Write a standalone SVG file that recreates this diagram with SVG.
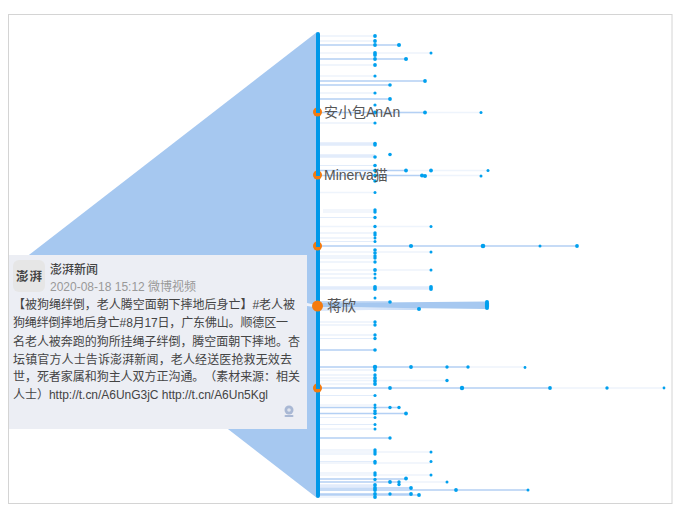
<svg xmlns="http://www.w3.org/2000/svg" width="680" height="512" viewBox="0 0 680 512">
<style>
text{font-family:"Liberation Sans","Noto Sans CJK SC",sans-serif}
.v{stroke:#eef4fc;stroke-width:1.5;fill:none}
.l{stroke:#e2ecfa;stroke-width:1.2;fill:none}
.m{stroke:#b4d0f4;stroke-width:1.3;fill:none}
.b{stroke:#e2ecfb;stroke-width:3.5;fill:none}
.d circle{fill:#00a0ee}
.lab{font-size:14px;fill:#555}
.card{font-size:12px;fill:#444;text-spacing-trim:space-all}
.o{fill:#f47b10}
.c{fill:#0098e8}
</style>
<rect x="8.500" y="14.500" width="663.500" height="489" fill="#fff" stroke="#d4d4d4"/>
<polygon id="fan" points="317,32 16,265 317,498" fill="#a6c8f0"/>
<g id="connectors">
<path class="l" d="M320 36H375M320 41H375M320 65H375M320 93H375M320 123H375M320 165.500H375M320 217.500H375M320 233H375M320 238H375M320 241.500H375M320 256H375M320 258H375M320 262H375M320 274H375M320 278H375M320 322H375M320 325H375M320 335H375M320 338.500H375M320 370H375M320 375H375M320 378H375M320 384H375M320 395.500H375M320 417.500H375M320 424.500H375M320 429H375M320 450H375M320 454H375M320 461.500H375M320 473H375M320 497H375"/>
<path class="v" d="M320 53H431M320 76H375M375 112.500H481M320 192.500H375M323 210H375M323 212H375M320 226.500H431M320 252H431M320 270H431M320 380.500H447M320 405H375M320 452H431M320 463H431M320 475H431M375 482H447M425 175.500H481M406 170.500H488M468 367H525M550 388H664"/>
<path class="m" d="M320 45H399M320 59H406M320 81H425M320 85H390M320 99H390M320 112.500H425M320 170.500H406M320 175.500H425M320 246H576M320 302H390M320 309H419M320 350H375M320 367H468M320 388H550M320 407.500H399M320 413.500H406M320 438H390M320 479H406M320 482H399M320 488H411M320 490H528M320 494H411M320 495H419"/>
<path class="b" d="M320 144H375M320 156H375M320 288H431M320 486H375"/>
<polygon points="320,303 487,301.500 487,309 320,307" fill="#a6c8f0"/>
<polygon points="320,307 419,309 320,311" fill="#dce8fa"/>
<polygon points="307,303 314,304.500 314,307 307,306" fill="#eef2fa"/>
</g>
<g id="axis"><rect x="316" y="32" width="4" height="466" rx="2" class="c"/></g>
<g id="dots" class="d">
<circle cx="375" cy="36" r="1.900"/><circle cx="375" cy="41" r="1.900"/><circle cx="375" cy="45" r="1.900"/><circle cx="399" cy="45" r="2"/><circle cx="375" cy="53" r="1.900"/><circle cx="431" cy="53" r="1.500"/><circle cx="375" cy="55" r="1.900"/><circle cx="375" cy="59" r="1.900"/><circle cx="406" cy="59" r="2"/><circle cx="375" cy="65" r="1.900"/><circle cx="375" cy="76" r="1.600"/><circle cx="425" cy="81" r="1.900"/><circle cx="390" cy="85" r="1.800"/><circle cx="375" cy="93" r="1.600"/><circle cx="390" cy="99" r="1.900"/><circle cx="375" cy="105" r="1.600"/><circle cx="375" cy="112.500" r="1.900"/><circle cx="425" cy="112.500" r="1.900"/><circle cx="481" cy="112.500" r="1.500"/><circle cx="375" cy="123" r="1.600"/><circle cx="375" cy="143.500" r="1.800"/><circle cx="375" cy="145" r="1.800"/>
<circle cx="390" cy="154.500" r="1.800"/><circle cx="375" cy="157" r="1.800"/><circle cx="375" cy="165.500" r="1.800"/><circle cx="375" cy="170.500" r="1.800"/><circle cx="406" cy="170.500" r="1.900"/><circle cx="431" cy="170.500" r="1.900"/><circle cx="488" cy="170.500" r="1.500"/><circle cx="375" cy="175.500" r="1.800"/><circle cx="422" cy="175.500" r="2"/><circle cx="425" cy="176" r="2"/><circle cx="481" cy="176" r="1.500"/><circle cx="375" cy="181" r="1.800"/><circle cx="375" cy="192.500" r="1.500"/>
<circle cx="375" cy="210" r="1.700"/><circle cx="375" cy="212" r="1.700"/><circle cx="375" cy="217.500" r="1.700"/><circle cx="375" cy="226.500" r="1.700"/><circle cx="431" cy="226.500" r="1.500"/><circle cx="375" cy="233" r="1.700"/><circle cx="375" cy="235" r="1.700"/><circle cx="375" cy="238" r="1.500"/><circle cx="375" cy="241.500" r="1.500"/><circle cx="411" cy="246" r="2.100"/><circle cx="483" cy="246" r="2.300"/><circle cx="540" cy="246" r="1.500"/><circle cx="577" cy="246" r="1.900"/><circle cx="375" cy="250" r="1.800"/><circle cx="375" cy="253" r="1.800"/><circle cx="431" cy="252" r="1.500"/><circle cx="375" cy="256" r="1.700"/><circle cx="375" cy="258" r="1.700"/><circle cx="375" cy="262" r="1.700"/><circle cx="375" cy="270" r="1.900"/><circle cx="431" cy="270" r="1.500"/><circle cx="375" cy="274" r="1.500"/><circle cx="375" cy="278" r="1.500"/><circle cx="375" cy="287" r="1.900"/><circle cx="375" cy="289" r="1.900"/><circle cx="431" cy="287" r="1.900"/><circle cx="431" cy="289" r="1.900"/><circle cx="375" cy="298" r="1.500"/><circle cx="390" cy="302" r="1.800"/>
<circle cx="487" cy="302" r="2"/><circle cx="487" cy="304" r="2.200"/><circle cx="487" cy="306" r="2.200"/><circle cx="487" cy="308" r="2"/><circle cx="419" cy="309" r="2"/><circle cx="375" cy="322" r="1.700"/><circle cx="375" cy="325" r="1.700"/><circle cx="375" cy="335" r="1.700"/><circle cx="375" cy="338.500" r="1.700"/><circle cx="375" cy="350" r="1.800"/>
<circle cx="375" cy="367" r="2.200"/><circle cx="411" cy="367" r="1.900"/><circle cx="447" cy="367" r="1.700"/><circle cx="468" cy="367" r="1.700"/><circle cx="525" cy="367.500" r="1.400"/><circle cx="375" cy="370" r="1.700"/><circle cx="375" cy="375" r="1.700"/><circle cx="375" cy="378" r="1.900"/><circle cx="375" cy="381" r="1.900"/><circle cx="447" cy="380.500" r="1.700"/><circle cx="375" cy="384" r="1.900"/><circle cx="390" cy="388" r="1.900"/><circle cx="462" cy="388" r="2.200"/><circle cx="550" cy="388" r="1.900"/><circle cx="607" cy="388" r="1.700"/><circle cx="664" cy="388" r="1.400"/><circle cx="375" cy="395.500" r="1.600"/><circle cx="375" cy="405" r="1.500"/><circle cx="375" cy="407.500" r="1.500"/><circle cx="390" cy="407.500" r="1.700"/><circle cx="399" cy="407.500" r="1.700"/><circle cx="375" cy="411" r="1.800"/><circle cx="375" cy="413.500" r="1.800"/><circle cx="406" cy="413.500" r="1.900"/><circle cx="375" cy="417.500" r="1.500"/><circle cx="375" cy="424.500" r="1.500"/><circle cx="375" cy="429" r="1.500"/><circle cx="390" cy="438" r="1.700"/><circle cx="375" cy="450" r="1.700"/><circle cx="375" cy="452" r="1.700"/><circle cx="431" cy="452" r="1.500"/><circle cx="375" cy="454" r="1.700"/><circle cx="375" cy="461.500" r="1.700"/><circle cx="375" cy="463" r="1.700"/><circle cx="431" cy="461.500" r="1.500"/><circle cx="375" cy="473" r="1.700"/><circle cx="375" cy="475" r="1.700"/><circle cx="431" cy="475" r="1.500"/><circle cx="406" cy="478.500" r="1.900"/><circle cx="375" cy="479.500" r="1.700"/><circle cx="390" cy="482" r="1.900"/><circle cx="399" cy="482" r="1.700"/><circle cx="447" cy="482" r="1.500"/><circle cx="399" cy="484.500" r="1.700"/><circle cx="375" cy="485" r="1.900"/><circle cx="375" cy="488" r="1.900"/><circle cx="411" cy="488" r="1.900"/><circle cx="375" cy="490" r="1.900"/><circle cx="456" cy="490" r="1.900"/><circle cx="528" cy="490" r="1.500"/><circle cx="375" cy="494" r="1.900"/><circle cx="390" cy="494" r="1.700"/><circle cx="411" cy="494" r="1.900"/><circle cx="419" cy="495" r="1.900"/><circle cx="375" cy="497" r="1.900"/>
</g>
<g id="node-anxiaobao">
<circle class="o" cx="317.500" cy="112" r="4.500"/><rect class="c" x="316" y="107" width="4" height="6"/>
<text class="lab" x="324" y="117">安小包AnAn</text>
</g>
<g id="node-minerva">
<circle class="o" cx="317.500" cy="175" r="4.500"/><rect class="c" x="316" y="170" width="4" height="6"/>
<text class="lab" x="324" y="180">Minerva猫</text>
</g>
<g id="node-246"><circle class="o" cx="317.500" cy="246" r="4.500"/><rect class="c" x="316" y="241" width="4" height="6"/></g>
<g id="node-jiangxin">
<circle class="o" cx="317.500" cy="306" r="5.500"/>
<text class="lab" x="327" y="311" style="font-size:14.500px">蒋欣</text>
</g>
<g id="node-388"><circle class="o" cx="317.500" cy="388" r="4.500"/><rect class="c" x="316" y="383" width="4" height="6"/></g>
<g id="card">
<rect x="9" y="255" width="298" height="174" fill="#eceef4"/>
<rect x="13" y="260" width="32" height="32" rx="6" fill="#e6e6e6"/>
<text x="16" y="281" style="font-size:12.500px;font-weight:700;fill:#444;letter-spacing:1px">澎湃</text>
<text x="50" y="274" style="font-size:12px;font-weight:500;fill:#444">澎湃新闻</text>
<text x="50" y="291" style="font-size:12px;fill:#999">2020-08-18 15:12 微博视频</text>
<text class="card" x="13" y="309" textLength="282">【被狗绳绊倒，老人腾空面朝下摔地后身亡】#老人被</text>
<text class="card" x="13" y="327" textLength="275">狗绳绊倒摔地后身亡#8月17日，广东佛山。顺德区一</text>
<text class="card" x="13" y="345.500" textLength="287">名老人被奔跑的狗所挂绳子绊倒，腾空面朝下摔地。杏</text>
<text class="card" x="13" y="363.500" textLength="279">坛镇官方人士告诉澎湃新闻，老人经送医抢救无效去</text>
<text class="card" x="13" y="381" textLength="287">世，死者家属和狗主人双方正沟通。（素材来源：相关</text>
<text class="card" x="13" y="399" textLength="255">人士）http://t.cn/A6UnG3jC http://t.cn/A6Un5Kgl</text>
<circle cx="289" cy="410" r="4.500" fill="#a9b8d4"/>
<circle cx="289" cy="410" r="1.800" fill="#dfe4ee"/>
<rect x="284.500" y="415" width="9" height="2" rx="1" fill="#a9b8d4"/>
</g>
</svg>
